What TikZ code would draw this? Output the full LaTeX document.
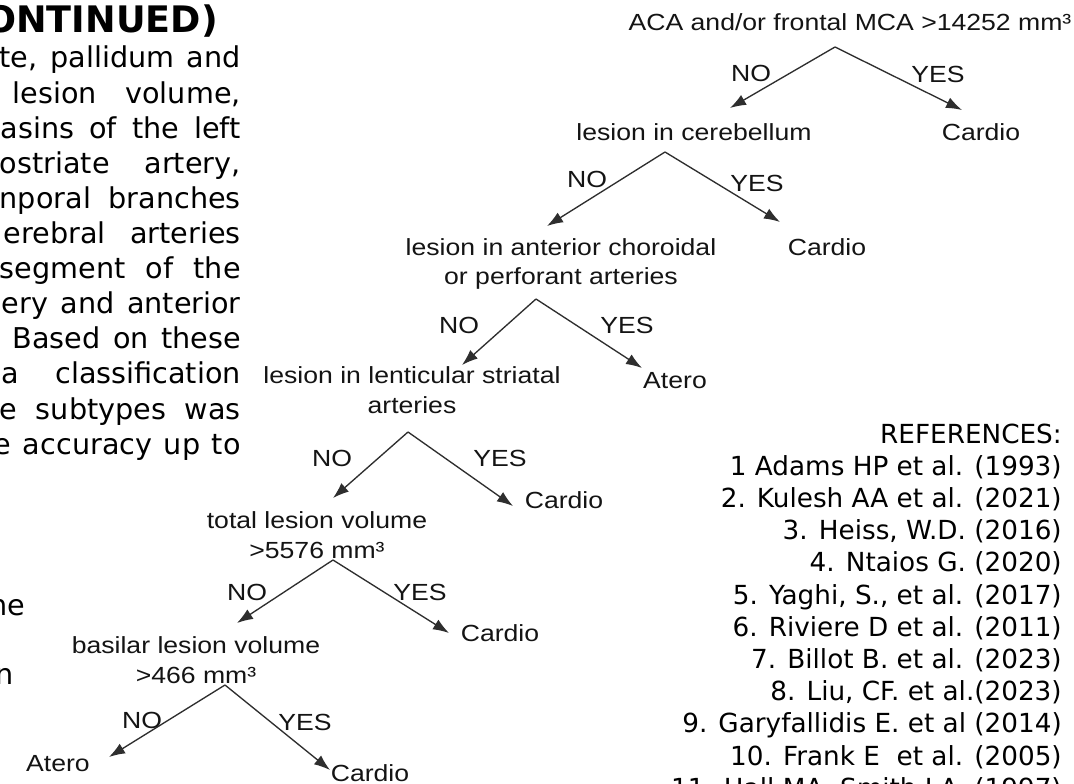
\documentclass[tikz,border=0pt]{standalone}
\usepackage{fontspec}
\usepackage{tikz}
\usetikzlibrary{arrows.meta}
\setmainfont{DejaVu Sans}
\newfontfamily\treefont[FakeStretch=1.14]{Liberation Sans}

\tikzset{
  test/.style={font=\treefont\fontsize{17.5}{22}\selectfont, text=black!92,
    inner sep=0pt, anchor=base, align=center},
  leaf/.style={test},
  answer/.style={test},
  branch/.style={draw=black!82, line width=1pt, -{Latex[length=12pt,width=8.5pt]}},
  body/.style={font=\fontsize{21.5}{26}\selectfont, inner sep=0pt, anchor=base east},
  refline/.style={font=\fontsize{19.7}{24}\selectfont, inner sep=0pt, anchor=base east},
}

\begin{document}
\begin{tikzpicture}[x=0.75pt,y=-0.75pt]
  \useasboundingbox (0,0) rectangle (1074,784);
  \fill[white] (0,0) rectangle (1074,784);
  \clip (0,0) rectangle (1074,784);

  % left column (cut by the page edge)
  \node[font=\bfseries\fontsize{27.4}{30}\selectfont, inner sep=0pt, anchor=base east]
    (title) at (218,33) {ONTINUED)};
  \foreach \k/\l/\s in {0/0/{te, pallidum and}, 1/13/{lesion volume,},
      2/1/{asins of the left}, 3/0/{ostriate artery,}, 4/0/{nporal branches},
      5/4/{erebral arteries}, 6/0/{segment of the}, 7/2/{ery and anterior},
      8/13/{Based on these}, 9/2/{a classification}, 10/0/{e subtypes was},
      11/-6/{e accuracy up to}} {
    \pgfmathsetlengthmacro{\w}{(241-\l)*0.75pt}
    \node[body] (txt\k) at (241,{68+35.1*\k}) {\makebox[\w][s]{\s}};
  }
  \node[body, anchor=base west] (txt12) at (-11,615) {ne};
  \node[body, anchor=base west] (txt13) at (-5,684) {n};

  % decision tree (two-line texts sit on their last line)
  \node[test] (root) at (850,31) {ACA and/or frontal MCA >14252 mm³};
  \node[test] (lcer) at (694,141) {lesion in cerebellum};
  \node[leaf] (c1) at (981,141) {Cardio};
  \node[test] (lant) at (561,285) {lesion in anterior choroidal\\or perforant arteries};
  \node[leaf] (c2) at (827,256) {Cardio};
  \node[test] (llen) at (412,413) {lesion in lenticular striatal\\arteries};
  \node[leaf] (a3) at (675,388) {Atero};
  \node[test] (tot) at (317,558) {total lesion volume\\>5576 mm³};
  \node[leaf] (c4) at (564,508) {Cardio};
  \node[test] (bas) at (196,683) {basilar lesion volume\\>466 mm³};
  \node[leaf] (c5) at (500,641) {Cardio};
  \node[leaf] (a6) at (58,771) {Atero};
  \node[leaf] (c6) at (370,781) {Cardio};

  % forks under each test, arrow ends next to each child
  \coordinate (f1) at (835,47);  \coordinate (f1n) at (730,108); \coordinate (f1y) at (962,110);
  \coordinate (f2) at (665,152); \coordinate (f2n) at (547,226); \coordinate (f2y) at (780,222);
  \coordinate (f3) at (536,299); \coordinate (f3n) at (462,365); \coordinate (f3y) at (642,368);
  \coordinate (f4) at (408,432); \coordinate (f4n) at (333,498); \coordinate (f4y) at (513,506);
  \coordinate (f5) at (333,560); \coordinate (f5n) at (237,623); \coordinate (f5y) at (449,633);
  \coordinate (f6) at (225,685); \coordinate (f6n) at (109,757); \coordinate (f6y) at (330,770);
  \foreach \i in {1,...,6} {
    \draw[branch] (f\i) -- (f\i n);
    \draw[branch] (f\i) -- (f\i y);
  }

  % branch labels
  \foreach \i/\nx/\ny/\yx/\yy in {1/751/81.5/938/83, 2/587/188/757/192, 3/459/333/627/333,
      4/332/466/500/466, 5/247/600/420/600, 6/142/728/305/730} {
    \node[answer] (no\i) at (\nx,\ny) {NO};
    \node[answer] (yes\i) at (\yx,\yy) {YES};
  }

  % references
  \foreach \k/\r in {0/{REFERENCES:}, 1/{1 Adams HP et al. (1993)},
      2/{2. Kulesh AA et al. (2021)}, 3/{3. Heiss, W.D. (2016)},
      4/{4. Ntaios G. (2020)\ }, 5/{5. Yaghi, S., et al. (2017)},
      6/{6. Riviere D et al. (2011)}, 7/{7. Billot B. et al. (2023)},
      8/{8. Liu, CF. et al.(2023)}, 9/{9. Garyfallidis E. et al (2014)},
      10/{10. Frank E\ \ et al. (2005)}, 11/{11. Hall MA, Smith LA. (1997)\ }}
    \node[refline] (ref\k) at (1062,{443+32.2*\k}) {\r};
\end{tikzpicture}
\end{document}
